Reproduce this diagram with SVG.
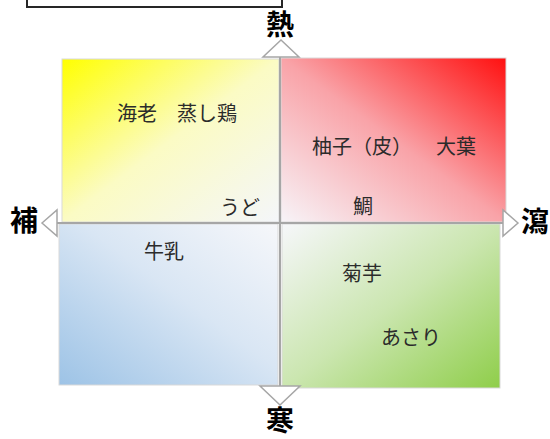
<svg xmlns="http://www.w3.org/2000/svg" width="550" height="439" viewBox="0 0 550 439">
<defs>
<linearGradient id="gY" x1="0" y1="0" x2="1" y2="1">
<stop offset="0" stop-color="#FFFF00"/><stop offset="0.5" stop-color="#FBFBC4"/><stop offset="1" stop-color="#F4F6FA"/>
</linearGradient>
<linearGradient id="gR" x1="1" y1="0" x2="0" y2="1">
<stop offset="0" stop-color="#FF1010"/><stop offset="0.5" stop-color="#F9A3A8"/><stop offset="1" stop-color="#F7F4F8"/>
</linearGradient>
<linearGradient id="gB" x1="0" y1="1" x2="1" y2="0">
<stop offset="0" stop-color="#9DC3E6"/><stop offset="0.55" stop-color="#D9E6F4"/><stop offset="1" stop-color="#F6F7FA"/>
</linearGradient>
<linearGradient id="gG" x1="1" y1="1" x2="0" y2="0">
<stop offset="0" stop-color="#8FCE4A"/><stop offset="0.5" stop-color="#CBE6B0"/><stop offset="1" stop-color="#F6F7FA"/>
</linearGradient>
</defs>
<style>
.q{stroke:#D9D9D9;stroke-width:1}
.t{font-family:"Noto Sans CJK JP","Noto Sans",sans-serif;font-size:20px;fill:#2B2B2B}
.ax{font-family:"Noto Sans CJK JP","Noto Sans",sans-serif;font-size:28px;font-weight:bold;fill:#000;text-anchor:middle}
.ln{stroke:#A6A6A6;stroke-width:2;fill:none}
.ah{fill:#FFFFFF;stroke:#A6A6A6;stroke-width:1.5}
</style>
<rect x="27" y="-10" width="255" height="17" fill="#FFFFFF" stroke="#262626" stroke-width="2"/>
<g id="q-hot-tonify">
<rect class="q" x="62" y="59" width="217" height="163" fill="url(#gY)"/>
<text class="t" x="117" y="121">海老　蒸し鶏</text>
<text class="t" x="220" y="215">うど</text>
</g>
<g id="q-hot-purge">
<rect class="q" x="281" y="58" width="225" height="164" fill="url(#gR)"/>
<text class="t" x="312" y="154">柚子（皮）</text>
<text class="t" x="436" y="154">大葉</text>
<text class="t" x="353" y="214">鯛</text>
</g>
<g id="q-cold-tonify">
<rect class="q" x="59" y="224" width="219" height="161" fill="url(#gB)"/>
<text class="t" x="144" y="259">牛乳</text>
</g>
<g id="q-cold-purge">
<rect class="q" x="282" y="224" width="218" height="164" fill="url(#gG)"/>
<text class="t" x="342" y="281">菊芋</text>
<text class="t" x="381" y="345">あさり</text>
</g>
<g id="connectors">
<line class="ln" x1="57" y1="223" x2="503" y2="223"/>
<line class="ln" x1="280" y1="57" x2="280" y2="386"/>
<polygon class="ah" points="281,40 299,57 263,57"/>
<polygon class="ah" points="42,223 57,210 57,236"/>
<polygon class="ah" points="518,223 503,210 503,236"/>
<polygon class="ah" points="280,405 260,386 300,386"/>
</g>
<g id="label-hot"><text class="ax" x="280" y="35">熱</text></g>
<g id="label-tonify"><text class="ax" x="24" y="231">補</text></g>
<g id="label-purge"><text class="ax" x="535" y="232">瀉</text></g>
<g id="label-cold"><text class="ax" x="280" y="431">寒</text></g>
</svg>
